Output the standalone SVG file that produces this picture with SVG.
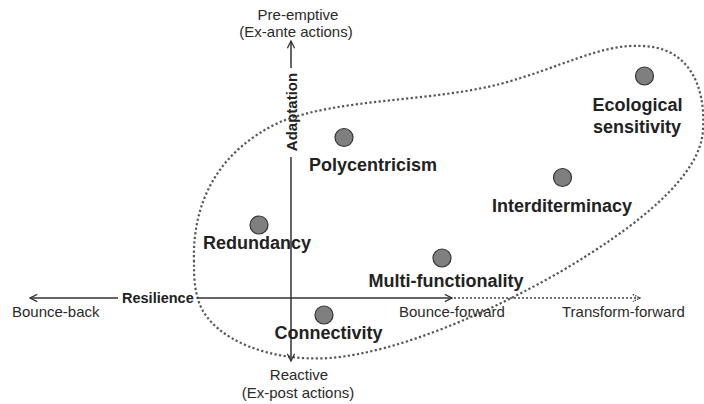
<svg xmlns="http://www.w3.org/2000/svg" width="704" height="404" viewBox="0 0 704 404">
  <defs>
    <style>
      .bold { font-family: "Liberation Sans", Arial, sans-serif; font-weight: bold; font-size: 18px; fill: #222; text-anchor: middle; }
      .axis-label { font-family: "Liberation Sans", Arial, sans-serif; font-size: 15px; fill: #2a2a2a; }
      .axis-title { font-family: "Liberation Sans", Arial, sans-serif; font-weight: bold; font-size: 15px; fill: #222; }
      .axis { stroke: #333; stroke-width: 1.5; fill: none; }
      .dotted { stroke: #444; stroke-width: 1.7; fill: none; stroke-dasharray: 2 2; }
      .blob { stroke: #555; stroke-width: 2.2; fill: none; stroke-dasharray: 2.2 2.4; }
      .dot { fill: #7f7f7f; stroke: #333; stroke-width: 1.2; }
    </style>
    <marker id="open" viewBox="0 0 10 10" refX="9" refY="5" markerWidth="9" markerHeight="9" markerUnits="userSpaceOnUse" orient="auto">
      <path d="M1,1 L9,5 L1,9" fill="none" stroke="#333" stroke-width="1.4"/>
    </marker>
    <marker id="open-light" viewBox="0 0 10 10" refX="9" refY="5" markerWidth="9" markerHeight="9" markerUnits="userSpaceOnUse" orient="auto">
      <path d="M1,1 L9,5 L1,9" fill="none" stroke="#444" stroke-width="1.5" stroke-dasharray="1.6 1.2"/>
    </marker>
  </defs>

  <rect width="704" height="404" fill="#ffffff"/>

  <!-- dotted envelope around the principles -->
  <path class="blob" d="M194,262 C192,200 220,150 280,122 C340,98 430,102 500,84 C560,68 600,44 640,46 C688,46 706,85 703,130 C701,175 640,225 560,272 C490,312 400,352 330,358 C270,362 215,340 200,305 C194,290 194,275 194,262 Z"/>

  <!-- axes -->
  <g id="connectors">
    <path class="axis" d="M291,68 L291,41" marker-end="url(#open)"/>
    <path class="axis" d="M291,157 L291,361" marker-end="url(#open)"/>
    <path class="axis" d="M118,298 L30,298" marker-end="url(#open)"/>
    <path class="axis" d="M197,298 L452,298" marker-end="url(#open)"/>
    <path class="dotted" d="M454,298 L640,298" marker-end="url(#open-light)"/>
  </g>

  <!-- axis labels -->
  <g id="axis-labels">
    <text class="axis-label" x="298" y="20" text-anchor="middle">Pre-emptive</text>
    <text class="axis-label" x="296" y="37" text-anchor="middle">(Ex-ante actions)</text>
    <text class="axis-label" x="299" y="380" text-anchor="middle">Reactive</text>
    <text class="axis-label" x="298" y="398" text-anchor="middle">(Ex-post actions)</text>
    <text class="axis-label" x="12" y="317">Bounce-back</text>
    <text class="axis-label" x="399" y="317">Bounce-forward</text>
    <text class="axis-label" x="562" y="317">Transform-forward</text>
    <text class="axis-title" x="122" y="303" style="font-size:14.5px">Resilience</text>
    <text class="axis-title" transform="translate(296.5,112) rotate(-90)" text-anchor="middle">Adaptation</text>
  </g>

  <!-- principles -->
  <g id="ecological-sensitivity">
    <circle class="dot" cx="644.5" cy="76" r="9"/>
    <text class="bold" x="637.5" y="111">Ecological</text>
    <text class="bold" x="637" y="133">sensitivity</text>
  </g>
  <g id="polycentricism">
    <circle class="dot" cx="344" cy="137.5" r="9"/>
    <text class="bold" x="373" y="171">Polycentricism</text>
  </g>
  <g id="interditerminacy">
    <circle class="dot" cx="562.5" cy="177.5" r="9"/>
    <text class="bold" x="562" y="212">Interditerminacy</text>
  </g>
  <g id="redundancy">
    <circle class="dot" cx="259" cy="225" r="9"/>
    <text class="bold" x="257" y="249">Redundancy</text>
  </g>
  <g id="multi-functionality">
    <circle class="dot" cx="442" cy="258" r="9"/>
    <text class="bold" x="446" y="287">Multi-functionality</text>
  </g>
  <g id="connectivity">
    <circle class="dot" cx="324" cy="315" r="9"/>
    <text class="bold" x="328.5" y="339">Connectivity</text>
  </g>
</svg>
